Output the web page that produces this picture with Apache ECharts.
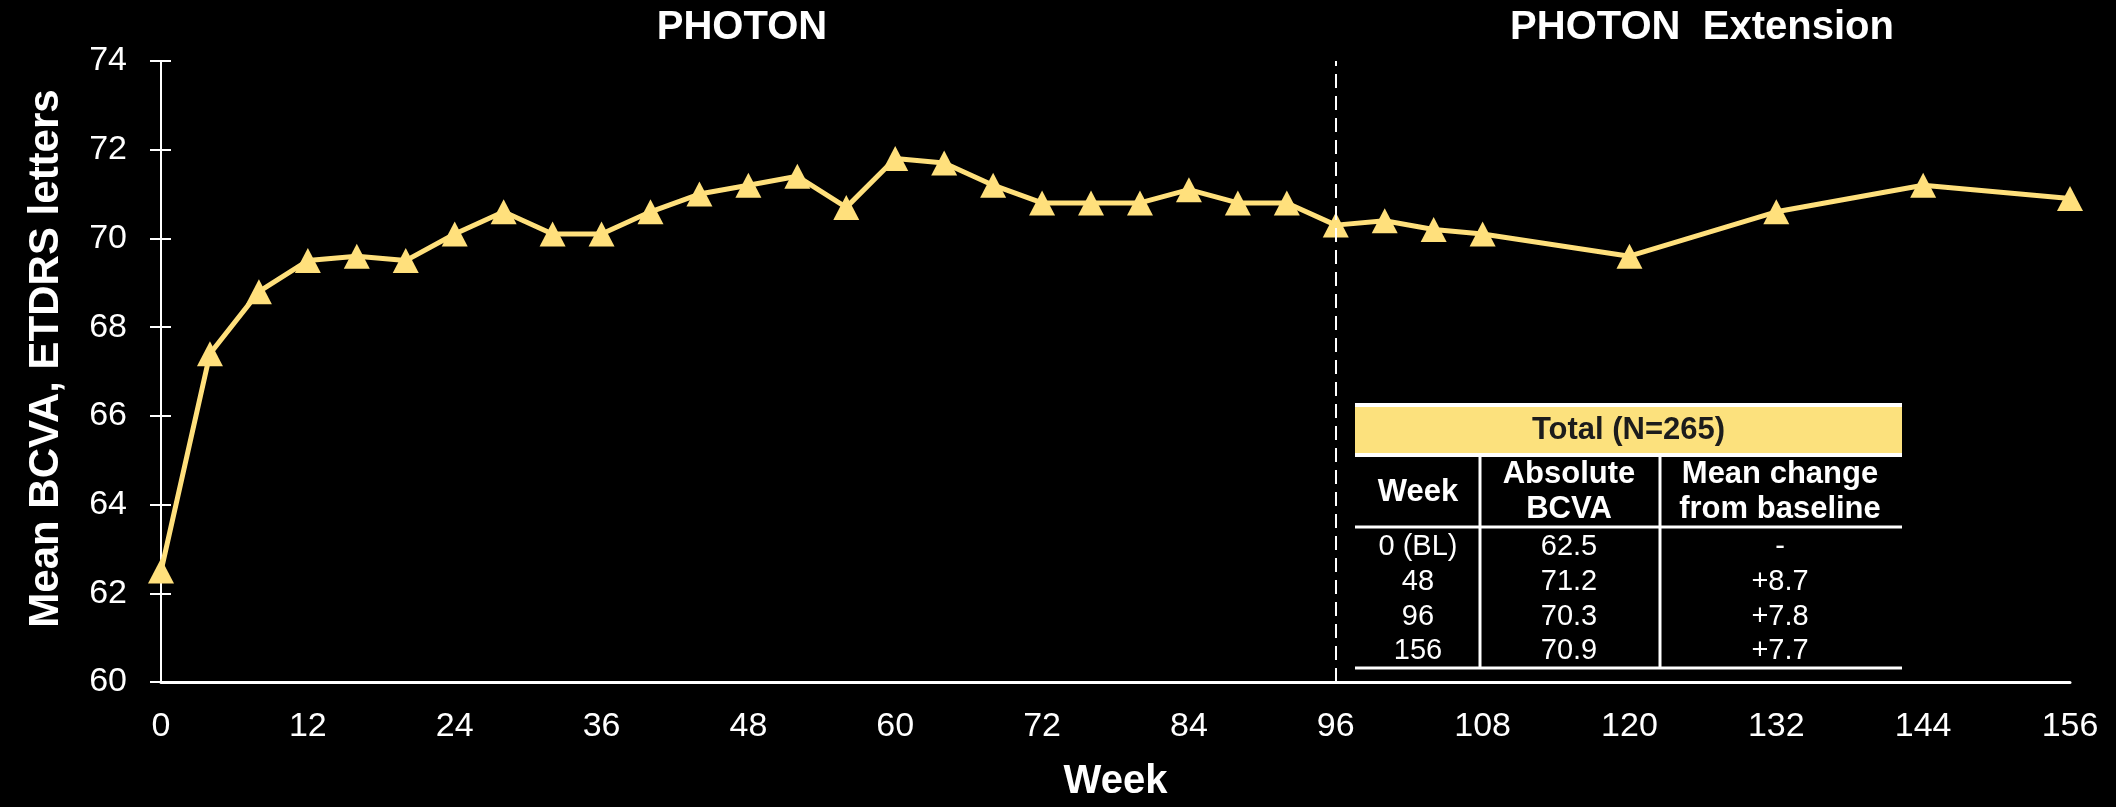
<!DOCTYPE html>
<html>
<head>
<meta charset="utf-8">
<script src="https://cdn.jsdelivr.net/npm/echarts@6/dist/echarts.min.js"></script>
<style>
html,body{margin:0;padding:0;background:#000;}
#chart{width:2116px;height:807px;}
</style>
</head>
<body>
<div id="chart"></div>
<script>
// ---- data ----
const weeks = [0,4,8,12,16,20,24,28,32,36,40,44,48,52,56,60,64,68,72,76,80,84,88,92,96,100,104,108,120,132,144,156];
const bcva  = [62.5,67.4,68.8,69.5,69.6,69.5,70.1,70.6,70.1,70.1,70.6,71.0,71.2,71.4,70.7,71.8,71.7,71.2,70.8,70.8,70.8,71.1,70.8,70.8,70.3,70.4,70.2,70.1,69.6,70.6,71.2,70.9];
const xTicks = [0,12,24,36,48,60,72,84,96,108,120,132,144,156];
const yTicks = [60,62,64,66,68,70,72,74];
const phaseTitles = ['PHOTON','PHOTON  Extension'];
const extensionStart = 96;
const tableTitle = 'Total (N=265)';
const tableHeaders = ['Week','Absolute\nBCVA','Mean change\nfrom baseline'];
const tableWeeks = ['0 (BL)','48','96','156'];
const tableAbs = ['62.5','71.2','70.3','70.9'];
const tableChange = ['-','+8.7','+7.8','+7.7'];

const FONT = '"Liberation Sans", Arial, sans-serif';
const YELLOW = '#FFE07C';
const chart = echarts.init(document.getElementById('chart'));

// table geometry (annotation)
const tL = 1355, tR = 1902, tTop = 403;
const colX = [tL, 1480, 1660, tR];
const colC = [1418, 1569, 1780];
const rowY = [547, 582, 617, 651];
const tg = [];
tg.push({type:'rect', shape:{x:tL, y:tTop+4, width:tR-tL, height:46}, style:{fill:'#FCE17D'}});
tg.push({type:'line', shape:{x1:tL,y1:tTop+2,x2:tR,y2:tTop+2}, style:{stroke:'#fff',lineWidth:4}});
tg.push({type:'line', shape:{x1:tL,y1:455,x2:tR,y2:455}, style:{stroke:'#fff',lineWidth:4}});
tg.push({type:'line', shape:{x1:tL,y1:527,x2:tR,y2:527}, style:{stroke:'#fff',lineWidth:3}});
tg.push({type:'line', shape:{x1:tL,y1:668,x2:tR,y2:668}, style:{stroke:'#fff',lineWidth:3}});
[colX[1], colX[2]].forEach(x => tg.push({type:'line', shape:{x1:x,y1:456,x2:x,y2:668}, style:{stroke:'#fff',lineWidth:3}}));
tg.push({type:'text', x:(tL+tR)/2, y:430, style:{text:tableTitle, fill:'#1c1c1c', font:'bold 31px '+FONT, textAlign:'center', textVerticalAlign:'middle'}});
tableHeaders.forEach((h,i) => tg.push({type:'text', x:colC[i], y:492, style:{text:h, fill:'#fff', font:'bold 31px '+FONT, lineHeight:35, textAlign:'center', textVerticalAlign:'middle'}}));
[tableWeeks, tableAbs, tableChange].forEach((col,ci) => col.forEach((t,ri) => tg.push({type:'text', x:colC[ci], y:rowY[ri], style:{text:t, fill:'#fff', font:'29px '+FONT, textAlign:'center', textVerticalAlign:'middle'}})));
// phase titles
tg.push({type:'text', x:742, y:28, style:{text:phaseTitles[0], fill:'#fff', font:'bold 40px '+FONT, textAlign:'center', textVerticalAlign:'middle'}});
tg.push({type:'text', x:1702, y:28, style:{text:phaseTitles[1], fill:'#fff', font:'bold 40px '+FONT, textAlign:'center', textVerticalAlign:'middle'}});

const option = {
  backgroundColor: '#000',
  animation: false,
  grid: {left:161, right:46, top:61, bottom:124, containLabel:false},
  xAxis: {
    type:'value', min:0, max:156, interval:12,
    name:'Week', nameLocation:'middle', nameGap:80,
    nameTextStyle:{color:'#fff', fontSize:40, fontWeight:'bold', fontFamily:FONT},
    axisLine:{show:true, lineStyle:{color:'#fff', width:3}},
    axisTick:{show:false},
    axisLabel:{color:'#fff', fontSize:34, fontFamily:FONT, margin:28,
      customValues: xTicks},
    splitLine:{show:false}
  },
  yAxis: [{
    type:'value', min:60, max:74, interval:2,
    name:'Mean BCVA, ETDRS letters', nameLocation:'middle', nameGap:94,
    nameTextStyle:{color:'#fff', fontSize:42, fontWeight:'bold', fontFamily:FONT, padding:[0,0,0,26]},
    axisLine:{show:true, lineStyle:{color:'#fff', width:2}},
    axisTick:{show:true, length:11, lineStyle:{color:'#fff', width:2}},
    axisLabel:{color:'#fff', fontSize:34, fontFamily:FONT, margin:34},
    splitLine:{show:false}
  },{
    type:'value', min:60, max:74, interval:2, position:'left',
    axisLine:{show:false},
    axisTick:{show:true, inside:true, length:10, lineStyle:{color:'#fff', width:2}},
    axisLabel:{show:false},
    splitLine:{show:false}
  }],
  series: [{
    type:'line',
    data: weeks.map((w,i)=>[w,bcva[i]]),
    symbol:'triangle', symbolSize:[26,25],
    lineStyle:{color:YELLOW, width:5},
    itemStyle:{color:YELLOW},
    z:3,
    markLine:{
      silent:true, symbol:'none', label:{show:false},
      lineStyle:{color:'#fff', type:[14,8], width:2},
      data:[{xAxis:extensionStart}]
    }
  }],
  graphic: tg
};
chart.setOption(option);
</script>
</body>
</html>
